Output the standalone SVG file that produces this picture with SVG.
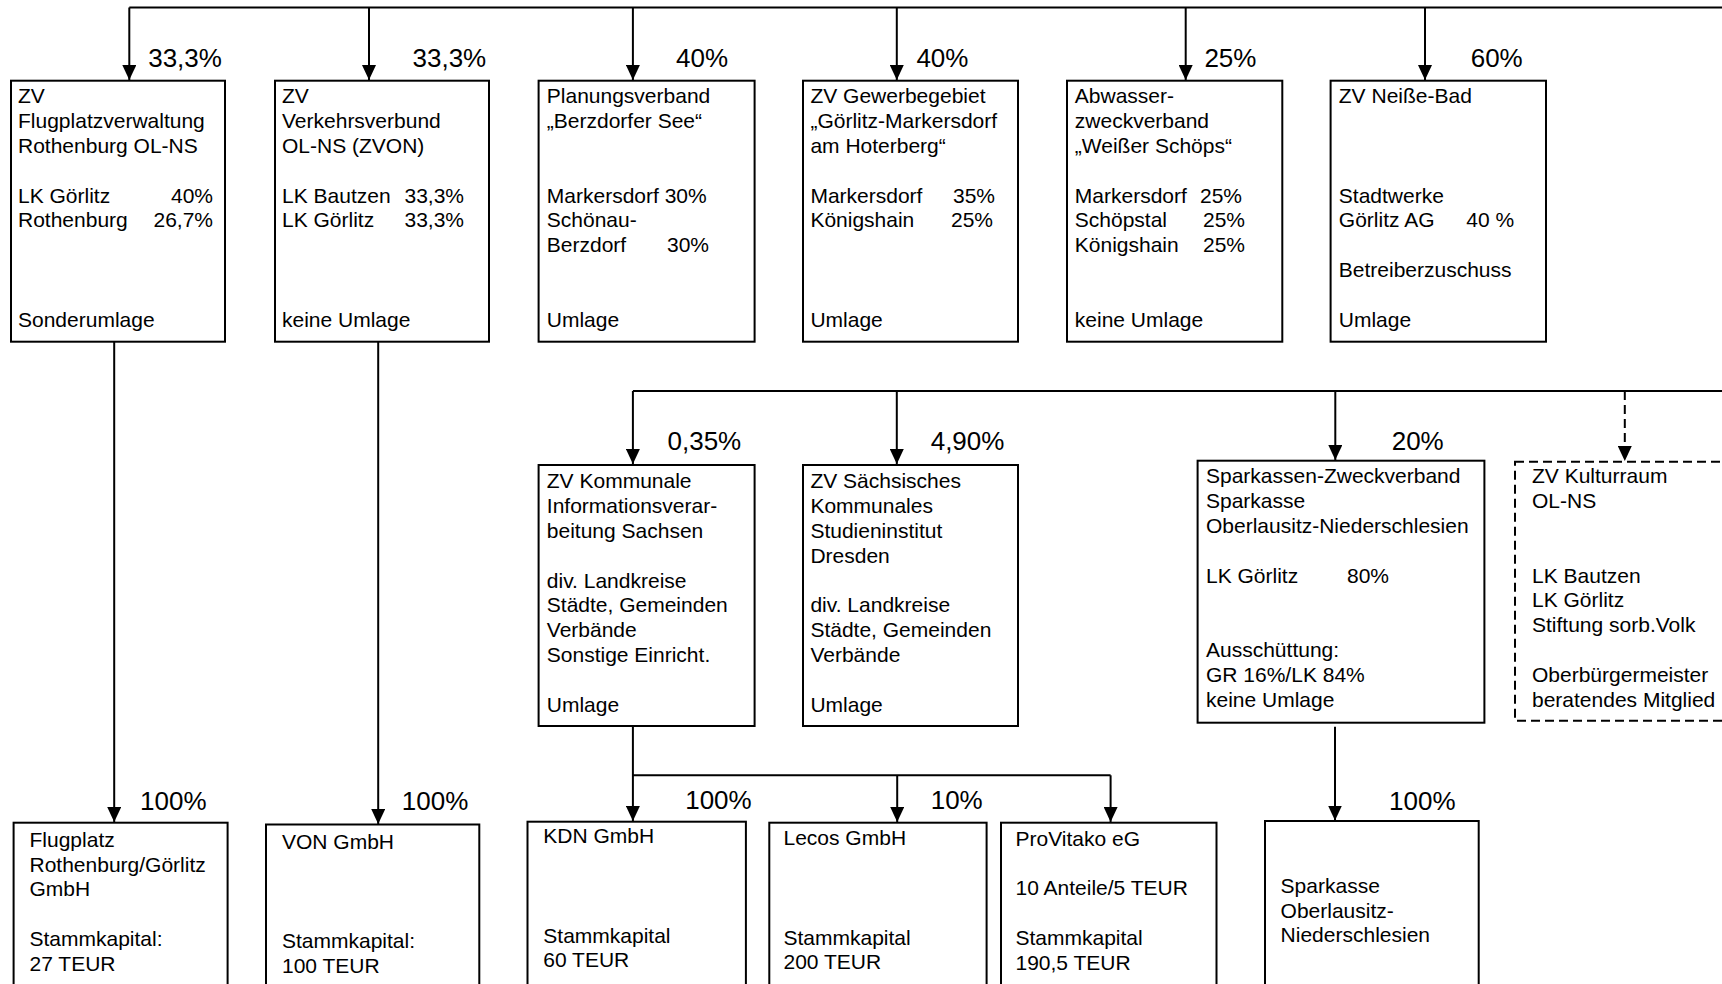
<svg xmlns="http://www.w3.org/2000/svg" width="1722" height="984" viewBox="0 0 1722 984">
<style>
.t{font-family:"Liberation Sans",Arial,sans-serif;font-size:21px;fill:#000}
.p{font-family:"Liberation Sans",Arial,sans-serif;font-size:26px;fill:#000}
.e{text-anchor:end}
.box{fill:#fff;stroke:#000;stroke-width:2}
.dash{stroke-dasharray:9 5}
.ln{fill:none;stroke:#000;stroke-width:2}
</style>
<defs>
<marker id="ah" markerUnits="userSpaceOnUse" viewBox="0 0 15 14" markerWidth="15" markerHeight="14" refX="15" refY="7" orient="auto">
<path d="M0,0 L15,7 L0,14 z" fill="#000"/>
</marker>
</defs>
<rect width="1722" height="984" fill="#fff"/>

<g id="connectors">
<path class="ln" d="M129.3,7.5 H1722"/>
<path class="ln" d="M129.3,7.5 V80" marker-end="url(#ah)"/>
<path class="ln" d="M369,7.5 V80" marker-end="url(#ah)"/>
<path class="ln" d="M632.9,7.5 V80" marker-end="url(#ah)"/>
<path class="ln" d="M896.8,7.5 V80" marker-end="url(#ah)"/>
<path class="ln" d="M1185.7,7.5 V80" marker-end="url(#ah)"/>
<path class="ln" d="M1425,7.5 V80" marker-end="url(#ah)"/>
<path class="ln" d="M632.9,391 H1722"/>
<path class="ln" d="M632.9,391 V464" marker-end="url(#ah)"/>
<path class="ln" d="M896.8,391 V464" marker-end="url(#ah)"/>
<path class="ln" d="M1335.3,391 V460" marker-end="url(#ah)"/>
<path class="ln dash" d="M1624.8,391 V461" marker-end="url(#ah)"/>
<path class="ln" d="M114.2,341.7 V822" marker-end="url(#ah)"/>
<path class="ln" d="M378.2,341.7 V824" marker-end="url(#ah)"/>
<path class="ln" d="M632.9,726 V821" marker-end="url(#ah)"/>
<path class="ln" d="M632.9,775.3 H1110.6"/>
<path class="ln" d="M897.2,775.3 V822" marker-end="url(#ah)"/>
<path class="ln" d="M1110.6,775.3 V822" marker-end="url(#ah)"/>
<path class="ln" d="M1335,726.7 V820.5" marker-end="url(#ah)"/>
<text class="p" x="148.2" y="66.7">33,3%</text>
<text class="p" x="412.5" y="66.7">33,3%</text>
<text class="p" x="676" y="66.7">40%</text>
<text class="p" x="916.4" y="66.7">40%</text>
<text class="p" x="1204.4" y="66.7">25%</text>
<text class="p" x="1470.7" y="66.7">60%</text>
<text class="p" x="667.5" y="450">0,35%</text>
<text class="p" x="930.7" y="450">4,90%</text>
<text class="p" x="1391.7" y="450">20%</text>
<text class="p" x="140" y="810">100%</text>
<text class="p" x="401.8" y="810">100%</text>
<text class="p" x="685.2" y="809">100%</text>
<text class="p" x="930.7" y="809">10%</text>
<text class="p" x="1389" y="810">100%</text>
</g>

<g id="n1">
<rect class="box" x="11" y="80.7" width="214" height="261"/>
<text class="t" x="18" y="103.3">ZV</text>
<text class="t" x="18" y="128.1">Flugplatzverwaltung</text>
<text class="t" x="18" y="152.9">Rothenburg OL-NS</text>
<text class="t" x="18" y="202.5">LK Görlitz</text>
<text class="t e" x="213" y="202.5">40%</text>
<text class="t" x="18" y="227.3">Rothenburg</text>
<text class="t e" x="213" y="227.3">26,7%</text>
<text class="t" x="18" y="326.5">Sonderumlage</text>
</g>

<g id="n2">
<rect class="box" x="275" y="80.7" width="214" height="261"/>
<text class="t" x="282" y="103.3">ZV</text>
<text class="t" x="282" y="128.1">Verkehrsverbund</text>
<text class="t" x="282" y="152.9">OL-NS (ZVON)</text>
<text class="t" x="282" y="202.5">LK Bautzen</text>
<text class="t e" x="464" y="202.5">33,3%</text>
<text class="t" x="282" y="227.3">LK Görlitz</text>
<text class="t e" x="464" y="227.3">33,3%</text>
<text class="t" x="282" y="326.5">keine Umlage</text>
</g>

<g id="n3">
<rect class="box" x="538.6" y="80.7" width="216" height="261"/>
<text class="t" x="546.8" y="103.3">Planungsverband</text>
<text class="t" x="546.8" y="128.1">„Berzdorfer See“</text>
<text class="t" x="546.8" y="202.5">Markersdorf 30%</text>
<text class="t" x="546.8" y="227.3">Schönau-</text>
<text class="t" x="546.8" y="252.1">Berzdorf</text>
<text class="t e" x="709" y="252.1">30%</text>
<text class="t" x="546.8" y="326.5">Umlage</text>
</g>

<g id="n4">
<rect class="box" x="803" y="80.7" width="215" height="261"/>
<text class="t" x="810.4" y="103.3">ZV Gewerbegebiet</text>
<text class="t" x="810.4" y="128.1">„Görlitz-Markersdorf</text>
<text class="t" x="810.4" y="152.9">am Hoterberg“</text>
<text class="t" x="810.4" y="202.5">Markersdorf</text>
<text class="t e" x="995" y="202.5">35%</text>
<text class="t" x="810.4" y="227.3">Königshain</text>
<text class="t e" x="993" y="227.3">25%</text>
<text class="t" x="810.4" y="326.5">Umlage</text>
</g>

<g id="n5">
<rect class="box" x="1067" y="80.7" width="215.3" height="261"/>
<text class="t" x="1074.8" y="103.3">Abwasser-</text>
<text class="t" x="1074.8" y="128.1">zweckverband</text>
<text class="t" x="1074.8" y="152.9">„Weißer Schöps“</text>
<text class="t" x="1074.8" y="202.5">Markersdorf</text>
<text class="t e" x="1242" y="202.5">25%</text>
<text class="t" x="1074.8" y="227.3">Schöpstal</text>
<text class="t e" x="1245" y="227.3">25%</text>
<text class="t" x="1074.8" y="252.1">Königshain</text>
<text class="t e" x="1245" y="252.1">25%</text>
<text class="t" x="1074.8" y="326.5">keine Umlage</text>
</g>

<g id="n6">
<rect class="box" x="1330.6" y="80.7" width="215.4" height="261"/>
<text class="t" x="1338.8" y="103.3">ZV Neiße-Bad</text>
<text class="t" x="1338.8" y="202.5">Stadtwerke</text>
<text class="t" x="1338.8" y="227.3">Görlitz AG</text>
<text class="t" x="1466.3" y="227.3">40 %</text>
<text class="t" x="1338.8" y="276.9">Betreiberzuschuss</text>
<text class="t" x="1338.8" y="326.5">Umlage</text>
</g>

<g id="n7">
<rect class="box" x="538.6" y="465" width="216" height="261"/>
<text class="t" x="546.8" y="488.3">ZV Kommunale</text>
<text class="t" x="546.8" y="513.1">Informationsverar-</text>
<text class="t" x="546.8" y="537.9">beitung Sachsen</text>
<text class="t" x="546.8" y="587.5">div. Landkreise</text>
<text class="t" x="546.8" y="612.3">Städte, Gemeinden</text>
<text class="t" x="546.8" y="637.1">Verbände</text>
<text class="t" x="546.8" y="661.9">Sonstige Einricht.</text>
<text class="t" x="546.8" y="711.5">Umlage</text>
</g>

<g id="n8">
<rect class="box" x="803" y="465" width="215" height="261"/>
<text class="t" x="810.4" y="488.3">ZV Sächsisches</text>
<text class="t" x="810.4" y="513.1">Kommunales</text>
<text class="t" x="810.4" y="537.9">Studieninstitut</text>
<text class="t" x="810.4" y="562.7">Dresden</text>
<text class="t" x="810.4" y="612.3">div. Landkreise</text>
<text class="t" x="810.4" y="637.1">Städte, Gemeinden</text>
<text class="t" x="810.4" y="661.9">Verbände</text>
<text class="t" x="810.4" y="711.5">Umlage</text>
</g>

<g id="n9">
<rect class="box" x="1197.6" y="460.7" width="286.8" height="262"/>
<text class="t" x="1206" y="483.3">Sparkassen-Zweckverband</text>
<text class="t" x="1206" y="508.1">Sparkasse</text>
<text class="t" x="1206" y="532.9">Oberlausitz-Niederschlesien</text>
<text class="t" x="1206" y="582.5">LK Görlitz</text>
<text class="t" x="1347" y="582.5">80%</text>
<text class="t" x="1206" y="656.9">Ausschüttung:</text>
<text class="t" x="1206" y="681.7">GR 16%/LK 84%</text>
<text class="t" x="1206" y="706.5">keine Umlage</text>
</g>

<g id="n10">
<rect class="box dash" x="1515" y="461.7" width="240" height="259"/>
<text class="t" x="1532" y="483.3">ZV Kulturraum</text>
<text class="t" x="1532" y="508.1">OL-NS</text>
<text class="t" x="1532" y="582.5">LK Bautzen</text>
<text class="t" x="1532" y="607.3">LK Görlitz</text>
<text class="t" x="1532" y="632.1">Stiftung sorb.Volk</text>
<text class="t" x="1532" y="681.7">Oberbürgermeister</text>
<text class="t" x="1532" y="706.5">beratendes Mitglied</text>
</g>

<g id="n11">
<rect class="box" x="13.6" y="822.7" width="214" height="200"/>
<text class="t" x="29.5" y="846.7">Flugplatz</text>
<text class="t" x="29.5" y="871.5">Rothenburg/Görlitz</text>
<text class="t" x="29.5" y="896.3">GmbH</text>
<text class="t" x="29.5" y="945.9">Stammkapital:</text>
<text class="t" x="29.5" y="970.7">27 TEUR</text>
</g>

<g id="n12">
<rect class="box" x="266" y="824.5" width="213.3" height="200"/>
<text class="t" x="282" y="848.5">VON GmbH</text>
<text class="t" x="282" y="948">Stammkapital:</text>
<text class="t" x="282" y="972.8">100 TEUR</text>
</g>

<g id="n13">
<rect class="box" x="527.5" y="821.7" width="218.4" height="200"/>
<text class="t" x="543.3" y="843.4">KDN GmbH</text>
<text class="t" x="543.3" y="942.6">Stammkapital</text>
<text class="t" x="543.3" y="967.4">60 TEUR</text>
</g>

<g id="n14">
<rect class="box" x="769.3" y="822.7" width="217.3" height="200"/>
<text class="t" x="783.5" y="845.3">Lecos GmbH</text>
<text class="t" x="783.5" y="944.5">Stammkapital</text>
<text class="t" x="783.5" y="969.3">200 TEUR</text>
</g>

<g id="n15">
<rect class="box" x="1001" y="822.7" width="215.5" height="200"/>
<text class="t" x="1015.5" y="845.6">ProVitako eG</text>
<text class="t" x="1015.5" y="895.2">10 Anteile/5 TEUR</text>
<text class="t" x="1015.5" y="944.8">Stammkapital</text>
<text class="t" x="1015.5" y="969.6">190,5 TEUR</text>
</g>

<g id="n16">
<rect class="box" x="1265" y="821" width="213.7" height="200"/>
<text class="t" x="1280.6" y="892.7">Sparkasse</text>
<text class="t" x="1280.6" y="917.5">Oberlausitz-</text>
<text class="t" x="1280.6" y="942.3">Niederschlesien</text>
</g>
</svg>
